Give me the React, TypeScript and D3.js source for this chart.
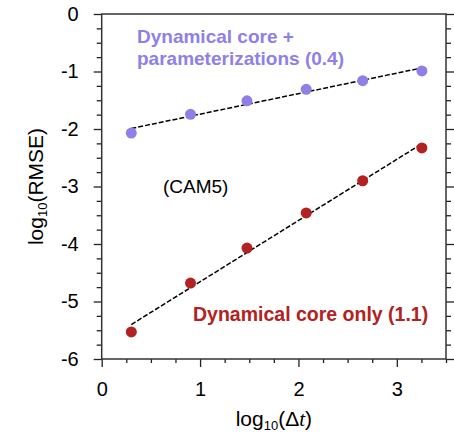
import { useEffect, useRef } from "react";
import * as d3 from "d3";

const width = 454;
const height = 434;
const marginLeft = 101.7;
const marginTop = 14;
const marginRight = 8;
const marginBottom = 75;

// log10 of time step
const dtLog = [0.301, 0.903, 1.477, 2.079, 2.653, 3.255];
// dynamical core + parameterizations
const fullRmse = [-2.07, -1.745, -1.51, -1.31, -1.16, -0.99];
// dynamical core only
const dycoreRmse = [-5.53, -4.68, -4.07, -3.46, -2.9, -2.33];

const xTicks = [0, 1, 2, 3];
const yTicks = [0, -1, -2, -3, -4, -5, -6];

const purple = "#8f80e8";
const red = "#b22222";

// least squares fit, drawn over the data range
const fit = (xs: number[], ys: number[]) => {
  const mx = d3.mean(xs) as number;
  const my = d3.mean(ys) as number;
  const sxy = d3.sum(xs, (x, i) => (x - mx) * (ys[i] - my));
  const sxx = d3.sum(xs, (x) => (x - mx) ** 2);
  const b = sxy / sxx;
  const a = my - b * mx;
  const x0 = xs[0];
  const x1 = xs[xs.length - 1];
  return [
    [x0, a + b * x0],
    [x1, a + b * x1],
  ];
};

const App = () => {
  const ref = useRef<SVGSVGElement>(null);

  const xScale = d3
    .scaleLinear()
    .domain([0, 3.5])
    .range([marginLeft, width - marginRight]);
  const yScale = d3
    .scaleLinear()
    .domain([-6, 0])
    .range([height - marginBottom, marginTop]);

  const x0 = xScale.range()[0];
  const x1 = xScale.range()[1];
  const y0 = yScale.range()[0];
  const y1 = yScale.range()[1];

  const minorX = d3.range(0, 3.5001, 0.25).filter((v) => v % 1 !== 0);
  const minorY = d3.range(-6, 0.0001, 0.25).filter((v) => v % 1 !== 0);

  useEffect(() => {
    const svg = d3.select(ref.current);
    const style = (g: any) => {
      g.select(".domain").remove();
      g.selectAll("line").attr("stroke", "#222").attr("stroke-width", 1.3);
      g.selectAll("text")
        .attr("font-family", "Liberation Sans, Arial, sans-serif")
        .attr("font-size", 20)
        .attr("fill", "#000");
    };
    svg
      .select<SVGGElement>(".x-axis")
      .call(d3.axisBottom(xScale).tickValues(xTicks).tickSize(8).tickPadding(15).tickFormat(d3.format("d")))
      .call(style);
    svg
      .select<SVGGElement>(".x-minor")
      .call(d3.axisBottom(xScale).tickValues(minorX).tickSize(4).tickFormat(() => ""))
      .call(style);
    svg
      .select<SVGGElement>(".y-axis")
      .call(
        d3
          .axisLeft(yScale)
          .tickValues(yTicks)
          .tickSize(8)
          .tickPadding(15)
          .tickFormat((d) => (d === 0 ? "0" : "-" + Math.abs(d as number)))
      )
      .call(style);
    svg
      .select<SVGGElement>(".y-minor")
      .call(d3.axisLeft(yScale).tickValues(minorY).tickSize(5).tickFormat(() => ""))
      .call(style);
    svg
      .select<SVGGElement>(".r-axis")
      .call(d3.axisRight(yScale).tickValues(yTicks).tickSize(8).tickFormat(() => ""))
      .call(style);
    svg
      .select<SVGGElement>(".r-minor")
      .call(d3.axisRight(yScale).tickValues(minorY).tickSize(5).tickFormat(() => ""))
      .call(style);
  }, []);

  const line = d3
    .line<number[]>()
    .x((d) => xScale(d[0]))
    .y((d) => yScale(d[1]));

  const series = [
    { ys: fullRmse, color: purple },
    { ys: dycoreRmse, color: red },
  ];

  return (
    <svg
      ref={ref}
      width={width}
      height={height}
      style={{ position: "absolute", left: 0, top: 0, background: "#fff" }}
      fontFamily="Liberation Sans, Arial, sans-serif"
    >
      <g className="x-axis" transform={`translate(0,${y0})`} />
      <g className="x-minor" transform={`translate(0,${y0})`} />
      <g className="y-axis" transform={`translate(${x0},0)`} />
      <g className="y-minor" transform={`translate(${x0},0)`} />
      <g className="r-axis" transform={`translate(${x1},0)`} />
      <g className="r-minor" transform={`translate(${x1},0)`} />
      <rect
        x={x0}
        y={y1}
        width={x1 - x0}
        height={y0 - y1}
        fill="none"
        stroke="#333"
        strokeWidth={1.5}
      />

      {series.map((s, i) => (
        <g key={i}>
          <path
            d={line(fit(dtLog, s.ys)) as string}
            fill="none"
            stroke="#000"
            strokeWidth={1.5}
            strokeDasharray="5,2"
          />
          {s.ys.map((v, j) => (
            <circle key={j} cx={xScale(dtLog[j])} cy={yScale(v)} r={5.5} fill={s.color} />
          ))}
        </g>
      ))}

      <text x={137} y={43} fontSize={19} fontWeight="bold" fill={purple}>
        Dynamical core +
      </text>
      <text x={137} y={65} fontSize={19} fontWeight="bold" fill={purple}>
        parameterizations (0.4)
      </text>
      <text x={163} y={193} fontSize={19} fill="#000">
        (CAM5)
      </text>
      <text x={193} y={321} fontSize={19.5} fontWeight="bold" fill={red}>
        Dynamical core only (1.1)
      </text>

      {/* x-axis title */}
      <text x={(x0 + x1) / 2} y={426} textAnchor="middle" fontSize={21} fill="#000">
        log
        <tspan fontSize={13} dy={4}>10</tspan>
        <tspan dy={-4}>(Δ</tspan>
        <tspan fontFamily="Liberation Serif, serif" fontStyle="italic">t</tspan>
        <tspan>)</tspan>
      </text>
      {/* y-axis title */}
      <text
        transform={`translate(43,${(y0 + y1) / 2}) rotate(-90)`}
        textAnchor="middle"
        fontSize={21}
        fill="#000"
      >
        log
        <tspan fontSize={13} dy={4}>10</tspan>
        <tspan dy={-4}>(RMSE)</tspan>
      </text>
    </svg>
  );
};

export default App;
